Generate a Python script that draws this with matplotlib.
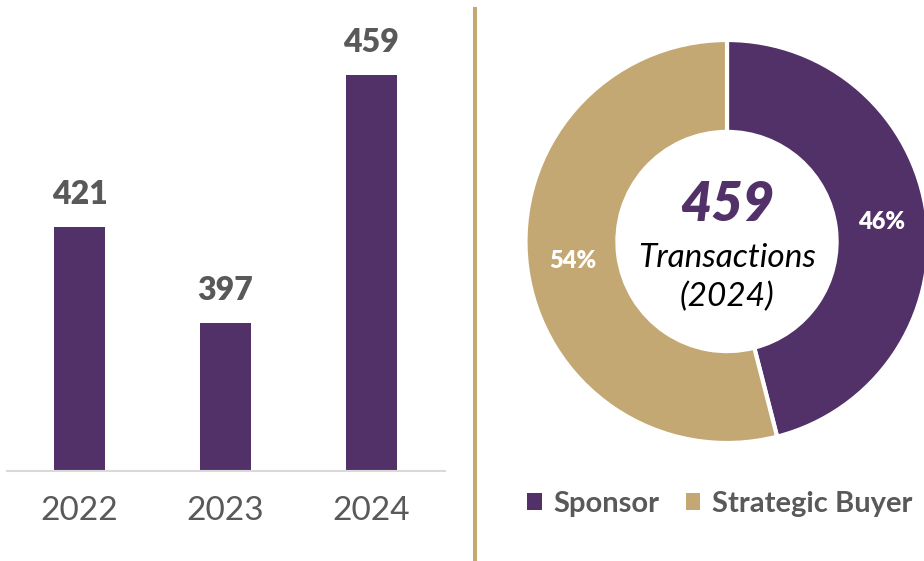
import matplotlib
matplotlib.use("Agg")
import matplotlib.pyplot as plt
from matplotlib.lines import Line2D

plt.rcParams['font.family'] = ['Lato', 'DejaVu Sans']

# ---- data ----
years = ["2022", "2023", "2024"]
deals = [421, 397, 459]
mix_labels = ["Sponsor", "Strategic Buyer"]
mix_values = [46, 54]
center_total = "459"
center_line1 = "Transactions"
center_line2 = "(2024)"

PURPLE = "#513167"
TAN = "#C4A873"
GRAY = "#595959"

W, H = 924, 561
fig = plt.figure(figsize=(W / 100, H / 100), dpi=100)

def box(l, t, w, h):
    return [l / W, 1 - (t + h) / H, w / W, h / H]

# ---- bar chart ----
ax = fig.add_axes(box(6.5, 0, 438, 470.5))
x = range(len(years))
ax.bar(x, deals, width=0.35, color=PURPLE)
ax.set_xlim(-0.5, 2.5)
ax.set_ylim(360, 360 + 470.5 / 4)
ax.set_xticks(list(x))
ax.set_xticklabels(years, fontsize=24, color=GRAY)
ax.tick_params(axis='x', length=0, pad=18)
ax.set_yticks([])
for s in ["left", "right", "top"]:
    ax.spines[s].set_visible(False)
ax.spines["bottom"].set_color("#D9D9D9")
ax.spines["bottom"].set_linewidth(1.5)
for xi, v in zip(x, deals):
    ax.annotate(str(v), (xi, v), xytext=(0, 16), textcoords="offset points",
                ha="center", va="baseline", fontsize=23, fontweight="heavy",
                color=GRAY)

# ---- divider ----
fig.add_artist(Line2D([475 / W, 475 / W], [0, 1 - 9 / H], color=TAN, lw=2.9))

# ---- donut ----
R = 201.5
ax2 = fig.add_axes(box(727 - R, 241.5 - R, 2 * R, 2 * R))
ring = 0.456
wedges, _, autotexts = ax2.pie(
    mix_values, colors=[PURPLE, TAN], startangle=90, counterclock=False,
    radius=1, autopct=lambda p: f"{p:.0f}%", pctdistance=1 - ring / 2,
    wedgeprops=dict(width=ring, edgecolor="white", linewidth=3),
    textprops=dict(color="white", fontsize=17, fontweight="heavy"))
ax2.set_xlim(-1, 1)
ax2.set_ylim(-1, 1)
ax2.set_aspect("equal")
ax2.axis("off")
ax2.text(0, 36.5 / R, center_total, ha="center", va="center", fontsize=39,
         fontweight="heavy", style="italic", color=PURPLE)
ax2.text(0, -25.5 / R, center_line1, ha="center", va="baseline", fontsize=24,
         style="italic", color="black")
ax2.text(0, -64.5 / R, center_line2, ha="center", va="baseline", fontsize=24,
         style="italic", color="black")

# ---- legend ----
leg = fig.legend(wedges, mix_labels, loc="center left",
                 bbox_to_anchor=(527 / W, 1 - 504 / H), ncol=2, frameon=False,
                 handlelength=0.5, handleheight=0.5, handletextpad=0.4,
                 columnspacing=0.9, borderpad=0, borderaxespad=0,
                 prop=dict(size=21, weight="bold"))
for t in leg.get_texts():
    t.set_color(GRAY)
for h in leg.legend_handles:
    h.set_edgecolor("none")
    h.set_linewidth(0)

fig.savefig("out.png", dpi=100)
